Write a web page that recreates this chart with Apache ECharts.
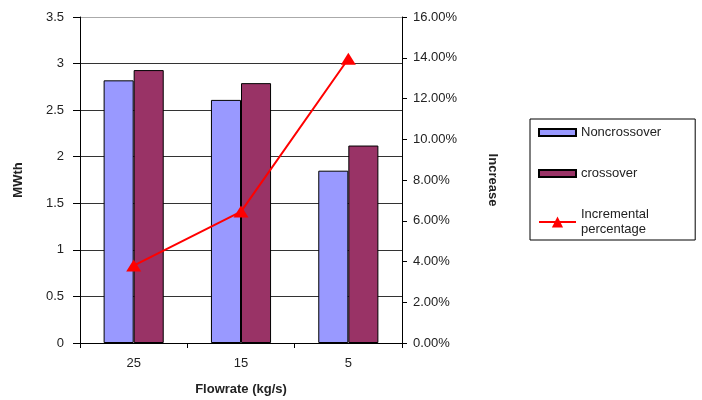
<!DOCTYPE html>
<html>
<head>
<meta charset="utf-8">
<script src="https://cdn.jsdelivr.net/npm/echarts@6/dist/echarts.min.js"></script>
<style>
  html, body { margin: 0; padding: 0; background: #fff; }
  #chart { width: 702px; height: 400px; }
</style>
</head>
<body>
<div id="chart"></div>
<script>
// Flow rate categories (kg/s)
const flowrates = ['25', '15', '5'];
// Thermal output, MWth
const noncrossover = [2.82, 2.61, 1.85];
const crossover = [2.93, 2.79, 2.12];
// Incremental percentage of crossover over noncrossover (%)
const incremental = [3.8, 6.45, 13.95];

const leftTicks = { min: 0, max: 3.5, interval: 0.5 };
const rightTicks = { min: 0, max: 16, interval: 2 };

const FONT = 'Liberation Sans, Arial, sans-serif';
const TXT = '#222';

// grid lines: dark, except the light top border line
const gridColors = ['#333', '#333', '#333', '#333', '#333', '#333', '#333', '#aaa'];

const chart = echarts.init(document.getElementById('chart'), null, { renderer: 'canvas' });

const legendText = { fontFamily: FONT, fontSize: 13, color: TXT, lineHeight: 15 };

chart.setOption({
  animation: false,
  backgroundColor: '#fff',
  textStyle: { fontFamily: FONT, color: TXT },
  grid: { left: 80, right: 300, top: 17, bottom: 57, containLabel: false, outerBoundsMode: 'none' },
  legend: [
    {
      // bar entries; the bordered box also frames the line entry below
      orient: 'vertical',
      left: 530,
      top: 119,
      padding: [6, 34, 59, 8],
      borderColor: '#000',
      borderWidth: 1,
      itemGap: 26,
      itemWidth: 37,
      itemHeight: 7,
      icon: 'rect',
      textStyle: legendText,
      data: ['Noncrossover', 'crossover']
    },
    {
      orient: 'vertical',
      left: 530,
      top: 207,
      padding: [0, 8, 0, 8],
      itemWidth: 37,
      itemHeight: 14,
      textStyle: legendText,
      data: ['Incremental percentage'],
      formatter: function () { return 'Incremental\npercentage'; }
    }
  ],
  xAxis: {
    type: 'category',
    data: flowrates,
    name: 'Flowrate (kg/s)',
    nameLocation: 'middle',
    nameGap: 40,
    nameTextStyle: { fontFamily: FONT, fontSize: 13, fontWeight: 'bold', color: TXT },
    axisLine: { lineStyle: { color: '#000', width: 1 } },
    axisTick: { show: true, length: 5, lineStyle: { color: '#000' } },
    axisLabel: { fontSize: 13, color: TXT, margin: 14 }
  },
  yAxis: [
    {
      type: 'value',
      min: leftTicks.min,
      max: leftTicks.max,
      interval: leftTicks.interval,
      name: 'MWth',
      nameLocation: 'middle',
      nameRotate: 90,
      nameGap: 55,
      nameTextStyle: { fontFamily: FONT, fontSize: 13, fontWeight: 'bold', color: TXT },
      axisLine: { show: true, lineStyle: { color: '#000', width: 1 } },
      axisTick: { show: true, inside: false, length: 7, lineStyle: { color: '#000' } },
      axisLabel: { fontSize: 13, color: TXT, margin: 16 },
      splitLine: { show: true, lineStyle: { color: gridColors, width: 1 } }
    },
    {
      type: 'value',
      position: 'right',
      min: rightTicks.min,
      max: rightTicks.max,
      interval: rightTicks.interval,
      name: 'Increase',
      nameLocation: 'middle',
      nameRotate: -90,
      nameGap: 84,
      nameTextStyle: { fontFamily: FONT, fontSize: 13, fontWeight: 'bold', color: TXT },
      axisLine: { show: true, lineStyle: { color: '#000', width: 1 } },
      axisTick: { show: true, inside: false, length: 5, lineStyle: { color: '#000' } },
      axisLabel: {
        fontSize: 13, color: TXT, margin: 11,
        formatter: function (v) { return v.toFixed(2) + '%'; }
      },
      splitLine: { show: false }
    }
  ],
  series: [
    {
      name: 'Noncrossover',
      type: 'bar',
      data: noncrossover,
      barGap: '0%',
      barCategoryGap: '44%',
      itemStyle: { color: '#9999FF', borderColor: '#000', borderWidth: 1 }
    },
    {
      name: 'crossover',
      type: 'bar',
      data: crossover,
      barGap: '0%',
      barCategoryGap: '44%',
      itemStyle: { color: '#993366', borderColor: '#000', borderWidth: 1 }
    },
    {
      name: 'Incremental percentage',
      type: 'line',
      yAxisIndex: 1,
      data: incremental,
      symbol: 'triangle',
      symbolSize: [15, 12],
      lineStyle: { color: '#FF0000', width: 2 },
      itemStyle: { color: '#FF0000' },
      z: 5
    }
  ]
});
</script>
</body>
</html>
